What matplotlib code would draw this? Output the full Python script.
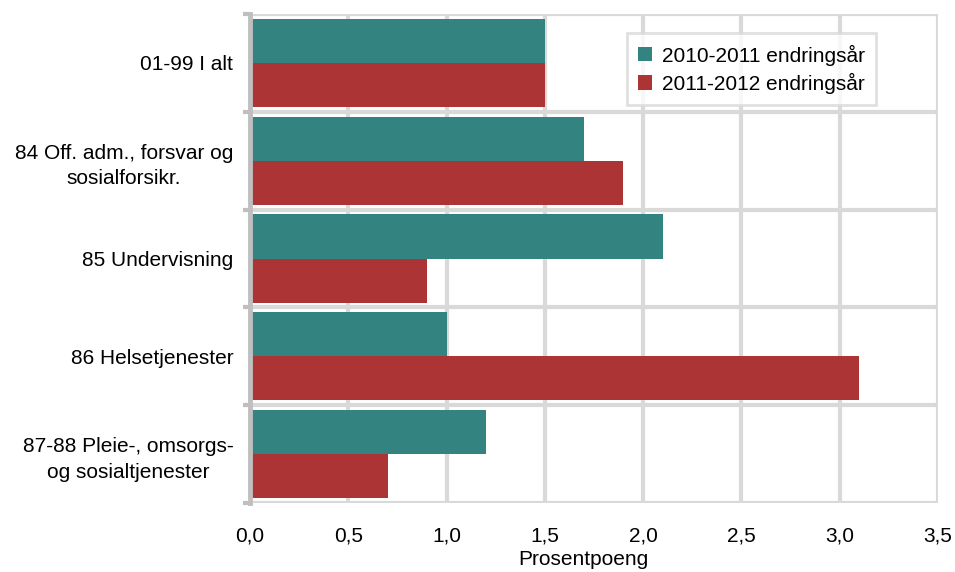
import matplotlib
matplotlib.use("Agg")
import matplotlib.pyplot as plt
import numpy as np

plt.rcParams["font.family"] = ["Liberation Sans", "DejaVu Sans"]

categories = [
    "01-99 I alt",
    "84 Off. adm., forsvar og\nsosialforsikr.",
    "85 Undervisning",
    "86 Helsetjenester",
    "87-88 Pleie-, omsorgs-\nog sosialtjenester",
]
series_names = ["2010-2011 endringsår", "2011-2012 endringsår"]
values_2011 = [1.5, 1.7, 2.1, 1.0, 1.2]
values_2012 = [1.5, 1.9, 0.9, 3.1, 0.7]
x_ticks = [0.0, 0.5, 1.0, 1.5, 2.0, 2.5, 3.0, 3.5]
x_label = "Prosentpoeng"

TEAL = "#338481"
RED = "#AD3434"
GRID = "#D9D9D9"
SPINE = "#BFBFBF"
FS = 15

fig = plt.figure(figsize=(9.55, 5.72), dpi=100)
ax = fig.add_axes([250 / 955, 1 - 503 / 572, 688 / 955, 489 / 572])

pos = np.arange(len(categories))
h = 0.45
ax.barh(pos - h / 2, values_2011, height=h, color=TEAL, label=series_names[0], zorder=3)
ax.barh(pos + h / 2, values_2012, height=h, color=RED, label=series_names[1], zorder=3)

# grid: vertical at x ticks, horizontal at category boundaries
for x in x_ticks:
    ax.axvline(x, color=GRID, lw=3, zorder=1)
bounds = np.arange(len(categories) + 1) - 0.5
for b in bounds:
    ax.axhline(b, color=GRID, lw=3, zorder=1)

ax.set_xlim(0, 3.5)
ax.set_ylim(len(categories) - 0.5, -0.5)

ax.set_xticks(x_ticks)
ax.set_xticklabels([f"{v:.1f}".replace(".", ",") for v in x_ticks], fontsize=FS)
ax.set_yticks(pos)
ax.set_yticklabels(categories, fontsize=FS, multialignment="center", linespacing=1.45)
ax.set_yticks(bounds, minor=True)
ax.tick_params(axis="y", which="major", length=0, pad=12)
ax.tick_params(axis="y", which="minor", length=5, width=3, color=SPINE)
ax.tick_params(axis="x", length=0, pad=17)

for side in ["top", "right", "bottom"]:
    ax.spines[side].set_visible(False)
ax.spines["left"].set_color(SPINE)
ax.spines["left"].set_linewidth(3.5)
ax.spines["left"].set_zorder(4)

# the reference clips this label at the bottom edge; keep it just inside
ax.set_xlabel(x_label, fontsize=FS)
ax.xaxis.set_label_coords(0.484, -0.097)
ax.xaxis.label.set_va("top")

leg = ax.legend(
    loc="upper right",
    bbox_to_anchor=(876 / 955, 1 - 33 / 572),
    bbox_transform=fig.transFigure,
    borderaxespad=0,
    fontsize=FS,
    frameon=True,
    fancybox=False,
    edgecolor=GRID,
    handlelength=0.67,
    handleheight=0.67,
    handletextpad=0.45,
    borderpad=0.55,
    labelspacing=0.35,
)
leg.get_frame().set_linewidth(2)
leg.set_zorder(5)

fig.savefig("out.png", dpi=100)
